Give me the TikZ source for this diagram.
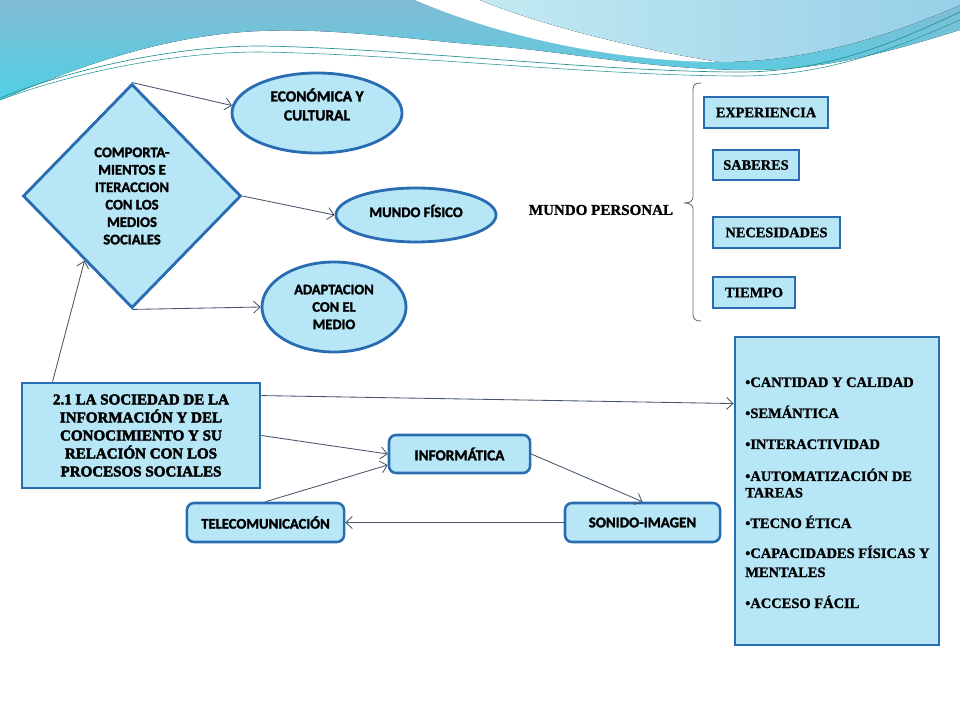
\documentclass[tikz,border=0pt]{standalone}
\usepackage{fontspec}
\setmainfont[BoldFeatures={FakeBold=1.2}]{Liberation Serif}
\newfontfamily\carl[BoldFeatures={FakeBold=1.8}]{Carlito}
\newfontfamily\heavy[BoldFeatures={FakeBold=2.8}]{Liberation Serif}
\usetikzlibrary{shapes.geometric,arrows.meta,calc}
\definecolor{nfill}{RGB}{183,231,247}
\definecolor{nborder}{RGB}{41,108,178}
\definecolor{arrc}{RGB}{70,85,105}
\definecolor{bgtop}{RGB}{130,188,212}
\definecolor{bgbot}{RGB}{78,208,228}
\definecolor{lightA}{RGB}{195,234,241}
\definecolor{lightB}{RGB}{150,207,232}
\definecolor{wave}{RGB}{40,150,150}
\definecolor{bracec}{RGB}{95,105,115}
\tikzset{
  nodefont/.style={font=\carl\bfseries\fontsize{10.4}{12.5}\selectfont},
  diam/.style={diamond, draw=nborder, fill=nfill, line width=2pt, inner sep=0pt, align=center, nodefont},
  ell/.style={ellipse, draw=nborder, fill=nfill, line width=2pt, inner sep=0pt, align=center, nodefont},
  rbox/.style={rectangle, rounded corners=5pt, draw=nborder, fill=nfill, line width=1.8pt, inner sep=0pt, nodefont},
  sbox/.style={rectangle, draw=nborder, fill=nfill, line width=2pt, inner sep=0pt, font=\bfseries\fontsize{10.2}{12}\selectfont},
  item/.style={anchor=base west, inner sep=0pt, font=\bfseries\fontsize{10.3}{12}\selectfont},
  conn/.style={draw=arrc, line width=0.6pt, -{Straight Barb[length=1.6mm,width=3mm]}},
}
\begin{document}
\begin{tikzpicture}[x=0.025cm,y=-0.025cm]
\useasboundingbox (0,0) rectangle (960,720);
\fill[white] (0,0) rectangle (960,720);
% background waves
\fill[top color=bgtop, bottom color=bgbot] (0,0) -- (960,0) -- (960,30)
  .. controls (880,55) and (820,70) .. (750,70)
  .. controls (650,70) and (560,50) .. (480,45)
  .. controls (400,38) and (330,28) .. (260,31)
  .. controls (160,35) and (70,70) .. (0,100) -- cycle;
\fill[white] (415,0) .. controls (520,45) and (640,62) .. (720,62)
  .. controls (640,50) and (540,25) .. (480,0) -- cycle;
\fill[left color=lightA, right color=lightB] (480,0) -- (960,0) -- (960,5)
  .. controls (880,40) and (800,62) .. (720,62)
  .. controls (640,50) and (540,25) .. (480,0) -- cycle;
\draw[wave, line width=0.5pt] (0,98) .. controls (80,66) and (180,46) .. (260,46)
  .. controls (400,48) and (600,72) .. (740,72) .. controls (830,72) and (900,40) .. (960,12);
\draw[wave, line width=0.4pt] (0,100) .. controls (80,70) and (180,52) .. (260,52)
  .. controls (400,54) and (600,76) .. (740,76) .. controls (830,76) and (900,46) .. (960,20);

% left part
\node[diam, minimum width=5.45cm, minimum height=5.6cm,
  font=\carl\bfseries\fontsize{10.4}{12.4}\selectfont] (diam) at (132,196)
  {COMPORTA-\\MIENTOS E\\ITERACCION\\CON LOS\\MEDIOS\\SOCIALES};
\node[ell, minimum width=4.25cm, minimum height=2cm] (econ) at (317,113) {};
\node[align=center, inner sep=0pt, font=\carl\bfseries\fontsize{11}{13.5}\selectfont] (econt) at (317,104.5) {ECONÓMICA Y\\CULTURAL};
\node[ell, minimum width=4cm, minimum height=1.35cm] (fis) at (416,215) {};
\node[inner sep=0pt, nodefont] (fist) at (416,211) {MUNDO FÍSICO};
\node[ell, minimum width=3.6cm, minimum height=2.25cm,
  font=\carl\bfseries\fontsize{10.3}{12.4}\selectfont] (adap) at (334,307) {ADAPTACION\\CON EL\\MEDIO};

\node[rectangle, draw=nborder, fill=nfill, line width=2pt, inner sep=0pt,
  minimum width=5.95cm, minimum height=2.625cm, align=center,
  font=\heavy\bfseries\fontsize{10.7}{12.8}\selectfont] (soc) at (141,435.5)
  {2.1 LA SOCIEDAD DE LA\\INFORMACIÓN Y DEL\\CONOCIMIENTO Y SU\\RELACIÓN CON LOS\\PROCESOS SOCIALES};

\node[rbox, minimum width=3.525cm, minimum height=0.95cm, font=\carl\bfseries\fontsize{10.8}{12}\selectfont] (info) at (459.5,454) {INFORMÁTICA};
\node[rbox, minimum width=3.925cm, minimum height=0.975cm] (tele) at (265.5,522.5) {TELECOMUNICACIÓN};
\node[rbox, minimum width=3.875cm, minimum height=0.975cm, font=\carl\bfseries\fontsize{10.6}{12}\selectfont] (son) at (642.5,522.5) {SONIDO-IMAGEN};

% mundo personal
\node[font=\bfseries\fontsize{10.7}{12}\selectfont, inner sep=0pt] (mp) at (601,210) {MUNDO PERSONAL};
\draw[bracec, line width=0.6pt] (701,83) .. controls (695,83) and (693,85) .. (693,90)
  -- (693,197) .. controls (693,201) and (690,203) .. (684,203)
  .. controls (690,203) and (693,205) .. (693,209)
  -- (693,314) .. controls (693,319) and (695,321) .. (701,321);
\node[sbox, minimum width=3.1cm, minimum height=0.775cm] (exp) at (766,112.5) {EXPERIENCIA};
\node[sbox, minimum width=2.15cm, minimum height=0.75cm] (sab) at (756,165) {SABERES};
\node[sbox, minimum width=3.175cm, minimum height=0.775cm] (nec) at (776.5,232.5) {NECESIDADES};
\node[sbox, minimum width=2.05cm, minimum height=0.775cm] (tie) at (754,292.5) {TIEMPO};

% big right box
\node[rectangle, draw=nborder, fill=nfill, line width=2pt, minimum width=5.1cm, minimum height=7.7cm] (big) at (837,491) {};
\node[item] (i1) at (745,387) {•CANTIDAD Y CALIDAD};
\node[item] (i2) at (745,418) {•SEMÁNTICA};
\node[item] (i3) at (745,449) {•INTERACTIVIDAD};
\node[item] (i4) at (745,481) {•AUTOMATIZACIÓN DE};
\node[item] (i4b) at (745,497.5) {TAREAS};
\node[item] (i5) at (745,528) {•TECNO ÉTICA};
\node[item] (i6) at (745,558) {•CAPACIDADES FÍSICAS Y};
\node[item] (i6b) at (745,577) {MENTALES};
\node[item] (i7) at (745,608) {•ACCESO FÁCIL};

% connectors
\draw[conn] (diam.north) -- (econ.175);
\draw[conn] (diam.east) -- (fis.west);
\draw[conn] (diam.south) -- (adap.west);
\draw[conn] ($(soc.north west)+(32,0)$) -- ($(diam.south)!0.43!(diam.west)$);
\draw[conn] ($(soc.north east)+(0,14)$) -- ($(big.north west)+(0,68)$);
\draw[conn] (soc.east) -- (info.west);
\draw[conn] (tele.north) -- ($(info.west)+(0,11)$);
\draw[conn] (info.east) -- (son.north);
\draw[conn] (son.west) -- (tele.east);
\end{tikzpicture}
\end{document}
